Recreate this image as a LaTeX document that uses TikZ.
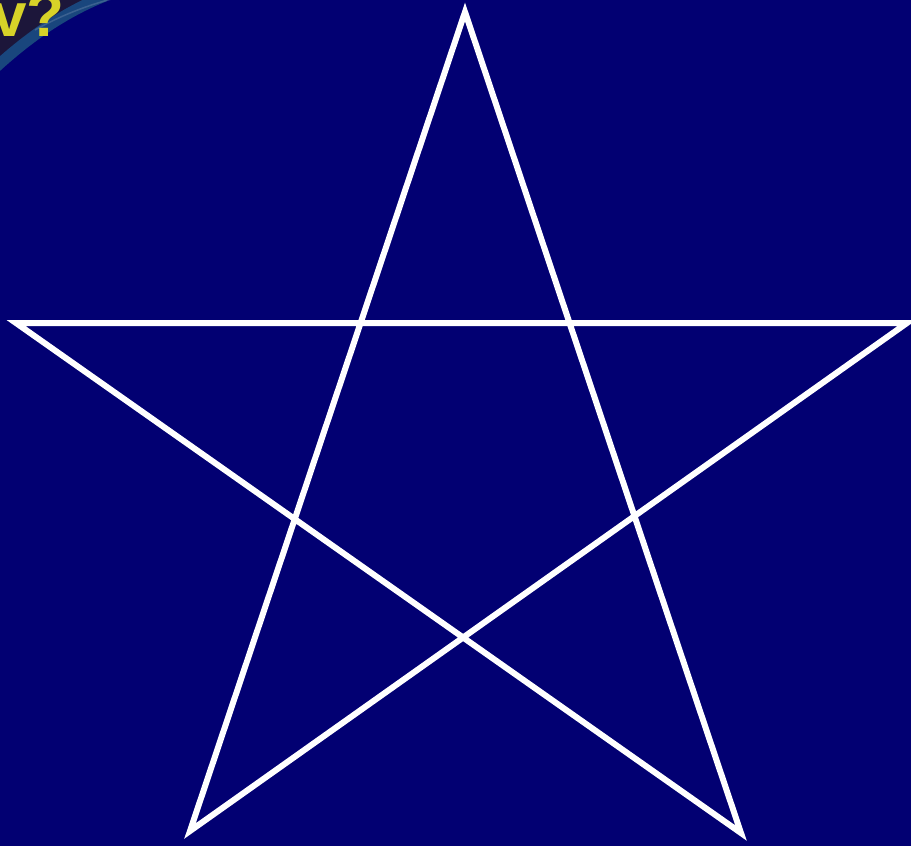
\documentclass[tikz,border=0pt]{standalone}
\usepackage{fontspec}
\setmainfont{Liberation Sans}
\definecolor{bgnavy}{RGB}{2,0,114}
\definecolor{cornerdark}{RGB}{28,22,58}
\definecolor{arcteal}{RGB}{25,70,125}
\definecolor{titleyellow}{RGB}{215,210,40}
\tikzset{starline/.style={draw=white,line width=6pt,line join=miter,miter limit=20}}
\begin{document}
\begin{tikzpicture}[x=1pt,y=-1pt]
\fill[bgnavy] (0,0) rectangle (911,846);
\useasboundingbox (0,0) rectangle (911,846);
\begin{scope}
\clip (0,0) rectangle (911,846);
\fill[cornerdark] (0,0) -- (0,56) .. controls (30,32) and (60,12) .. (90,0) -- cycle;
\draw[arcteal,line width=11pt] (-5,68) .. controls (30,36) and (65,12) .. (105,-4);
\draw[arcteal!70!white,line width=1.5pt,opacity=0.5] (35,30) .. controls (60,16) and (85,6) .. (115,-2);
\node[anchor=base west,inner sep=0pt,text=titleyellow,font=\bfseries\fontsize{62}{64}\selectfont] (title) at (-8,36) {v?};
\end{scope}
\coordinate (T) at (465,12);
\coordinate (L) at (16,323);
\coordinate (R) at (907,323);
\coordinate (BL) at (190,831);
\coordinate (BR) at (741,833);
\draw[starline] (T) -- (BL) -- (R) -- (L) -- (BR) -- cycle;
\end{tikzpicture}
\end{document}
